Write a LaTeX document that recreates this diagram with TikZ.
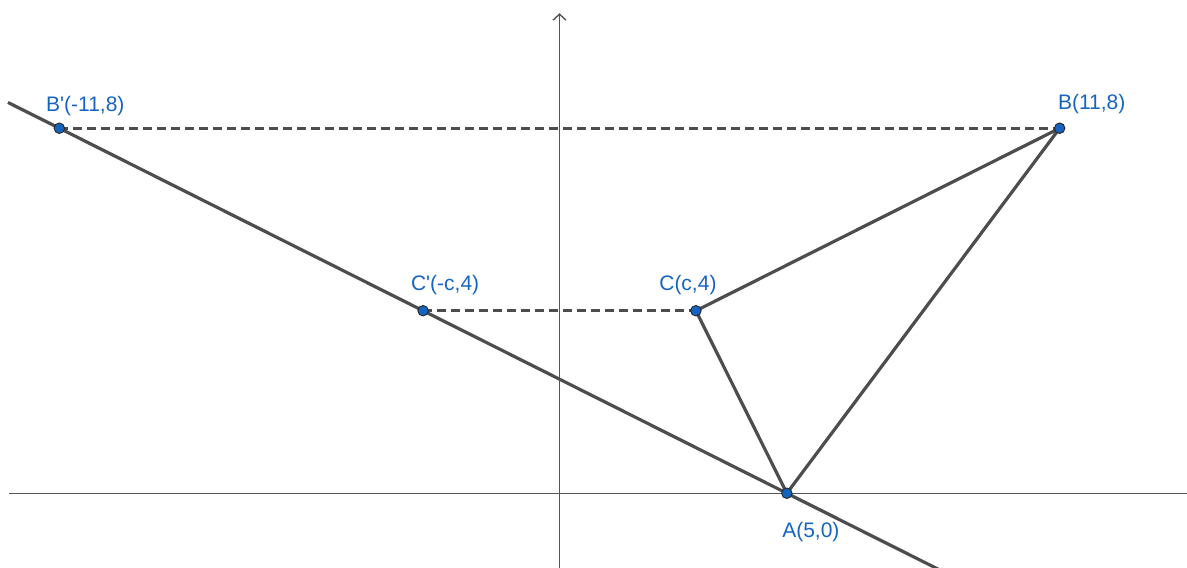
\documentclass[tikz,border=0pt]{standalone}
\usepackage{fontspec}
\setmainfont{Liberation Sans}
\usetikzlibrary{arrows.meta}
\definecolor{ggblue}{HTML}{1565C0}
\definecolor{gglines}{HTML}{4D4D4D}
\definecolor{ggaxis}{HTML}{555555}
\tikzset{
  seg/.style={draw=gglines, line width=3.2pt},
  dsh/.style={draw=gglines, line width=3.2pt, dash pattern=on 9pt off 5pt},
  axis/.style={draw=ggaxis, line width=1.4pt},
  pt/.style={circle, fill=ggblue, draw=black!85, line width=0.9pt, minimum size=10.5pt, inner sep=0pt},
  lab/.style={text=ggblue, font=\fontsize{21}{25}\selectfont, inner sep=0pt}
}
\begin{document}
\begin{tikzpicture}[x=45.47pt,y=45.63pt]
\useasboundingbox (-12.305,-1.637) rectangle (13.8,10.81);
\clip (-12.305,-1.637) rectangle (13.8,10.81);
% axes
\coordinate (xl) at (-12.1,0);
\coordinate (xr) at (13.85,0);
\coordinate (yb) at (0,-1.7);
\coordinate (yt) at (0,10.52);
\draw[axis] (xl) -- (xr);
\draw[axis, -{Straight Barb[length=6pt,width=13pt,line width=1.4pt]}] (yb) -- (yt);
% points
\coordinate (A) at (5,0);
\coordinate (B) at (11,8);
\coordinate (Bp) at (-11,8);
\coordinate (C) at (3,4);
\coordinate (Cp) at (-3,4);
\coordinate (L1) at (-12.13,8.565);
\coordinate (L2) at (8.5,-1.75);
% lines
\draw[seg] (L1) -- (L2);
\draw[dsh] (Bp) -- (B);
\draw[dsh] (Cp) -- (C);
\draw[seg, line join=round] (A) -- (C) -- (B) -- cycle;
% dots
\node[pt] (nA) at (A) {};
\node[pt] (nB) at (B) {};
\node[pt] (nBp) at (Bp) {};
\node[pt] (nC) at (C) {};
\node[pt] (nCp) at (Cp) {};
% labels
\node[lab] (lBp) at ([shift={(26pt,22pt)}]Bp) {B\textquotesingle(-11,8)};
\node[lab] (lB) at ([shift={(32pt,24pt)}]B) {B(11,8)};
\node[lab] (lCp) at ([shift={(22pt,26pt)}]Cp) {C\textquotesingle(-c,4)};
\node[lab] (lC) at ([shift={(-8pt,26pt)}]C) {C(c,4)};
\node[lab] (lA) at ([shift={(24pt,-39pt)}]A) {A(5,0)};
\end{tikzpicture}
\end{document}
